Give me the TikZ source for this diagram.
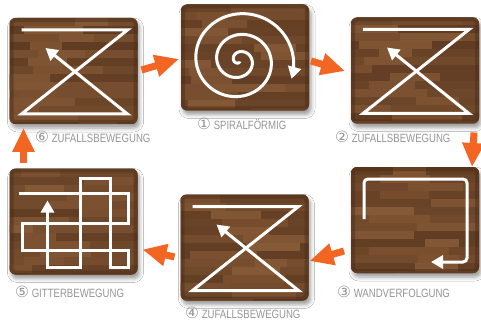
\documentclass[tikz,border=0pt]{standalone}
\usepackage{fontspec}
\newfontfamily\labelfont[FakeStretch=0.8]{Liberation Sans}
\newfontfamily\numfont{DejaVu Sans}
\usetikzlibrary{arrows.meta,calc,shadows.blur}

\definecolor{FlowOrange}{RGB}{242,101,34}
\definecolor{WoodMid}{RGB}{108,68,40}
\definecolor{WoodDark}{RGB}{78,46,25}
\definecolor{WoodLight}{RGB}{136,92,56}
\definecolor{LabelGrey}{RGB}{150,150,150}

\tikzset{
  panel/.style={rounded corners=6pt, fill=WoodMid, minimum width=128pt, minimum height=106pt,
    inner sep=0pt, outer sep=0pt,
    blur shadow={shadow xshift=2pt, shadow yshift=-4pt, shadow blur radius=4pt}},
  route/.style={white, line width=3pt},
  routetip/.style={route, -{Triangle[length=12pt,width=13pt]}},
  flow/.style={FlowOrange, line width=7pt, -{Triangle[length=24pt,width=21pt]}},
  caption/.style={text=LabelGrey, font=\labelfont\fontsize{12}{12}\selectfont, inner sep=0pt, anchor=west}
}
\newcommand{\circnum}[1]{{\numfont\fontsize{15.5}{15.5}\selectfont #1}}

\begin{document}
\begin{tikzpicture}[x=1pt, y=-1pt]
                \useasboundingbox (0,0) rectangle (481,323);
                \fill[white] (0,0) rectangle (481,323);

                % Panels
                \node[panel] (p6) at (73.5,71) {};
                \node[panel] (p1) at (245,57.5) {};
                \node[panel] (p2) at (415,70.5) {};
                \node[panel] (p5) at (73.5,221.5) {};
                \node[panel] (p4) at (244.5,247.5) {};
                \node[panel] (p3) at (415,220) {};

                % Wood planks
                \pgfmathsetseed{12}
                \foreach \p in {p6,p1,p2,p5,p4,p3} {
                    \begin{scope}
                        \clip[rounded corners=6pt] (\p.north west) rectangle (\p.south east);
                        \foreach \row in {0,...,13} {
                            \pgfmathrandominteger{\mix}{30}{70}
                            \fill[WoodLight!\mix!WoodDark] ($(\p.north west)+(0,\row*8)$) rectangle ++(130,8);
                            \pgfmathrandominteger{\xa}{-20}{80}
                            \pgfmathrandominteger{\len}{30}{80}
                            \pgfmathrandominteger{\mixb}{30}{90}
                            \fill[WoodLight!\mixb!WoodMid] ($(\p.north west)+(\xa,\row*8)$) rectangle ++(\len,8);
                        }
                        \draw[WoodDark, line width=8pt, opacity=0.5, rounded corners=6pt] (\p.north west) rectangle (\p.south east);
                    \end{scope}
                }

                % Random walks
                \foreach \p in {p6,p2,p4} {
                    \begin{scope}[shift={(\p.north west)}]
                        \draw[routetip] (12,12) -- (118,12) -- (12,96) -- (118,96) -- (36,30);
                    \end{scope}
                }

                % Spiral
                \begin{scope}[shift={(p1.north west)}]
                    \draw[routetip] plot[domain=1:19.2, samples=180, smooth, variable=\t]
                        ({58+1.2*\t^1.3*cos(\t r)}, {56+1.15*\t^1.3*sin(\t r)});
                \end{scope}

                % Wall following
                \begin{scope}[shift={(p3.north west)}]
                    \draw[routetip, rounded corners=4pt] (13,52) -- (13,12) -- (116,12) -- (116,95) -- (80,95);
                \end{scope}

                % Grid
                \begin{scope}[shift={(p5.north west)}]
                    \draw[routetip] (9,25) -- (119,25) -- (119,55) -- (13,55) -- (13,82) -- (119,82) -- (119,99)
                        -- (101,99) -- (101,10) -- (71,10) -- (71,99) -- (38,99) -- (38,32);
                \end{scope}

                % Captions
                \node[caption] (c6) at (35,137) {\circnum{⑥} ZUFALLSBEWEGUNG};
                \node[caption] (c1) at (197,124) {\circnum{①} SPIRALFÖRMIG};
                \node[caption] (c2) at (335,137) {\circnum{②} ZUFALLSBEWEGUNG};
                \node[caption] (c5) at (15,292) {\circnum{⑤} GITTERBEWEGUNG};
                \node[caption] (c4) at (185,313) {\circnum{④} ZUFALLSBEWEGUNG};
                \node[caption] (c3) at (337,292) {\circnum{③} WANDVERFOLGUNG};

                % Flow arrows
                \draw[flow] ($(p6.east)+(4,-1)$) -- ($(p1.west)+(-2,1.5)$);
                \draw[flow] ($(p1.east)+(2,3.5)$) -- ($(p2.west)+(-6,0.5)$);
                \draw[flow] ($(p2.south east)+(-5,9)$) -- ($(p3.north east)+(-7,0)$);
                \draw[flow] ($(p3.south west)+(-7,-22)$) -- ($(p4.east)+(1,13.5)$);
                \draw[flow] ($(p4.west)+(-6,9.5)$) -- ($(p5.south east)+(5,-25)$);
                \draw[flow] ($(p5.north west)+(14,-6)$) -- ($(p6.south west)+(14,4)$);
            \end{tikzpicture}
\end{document}
